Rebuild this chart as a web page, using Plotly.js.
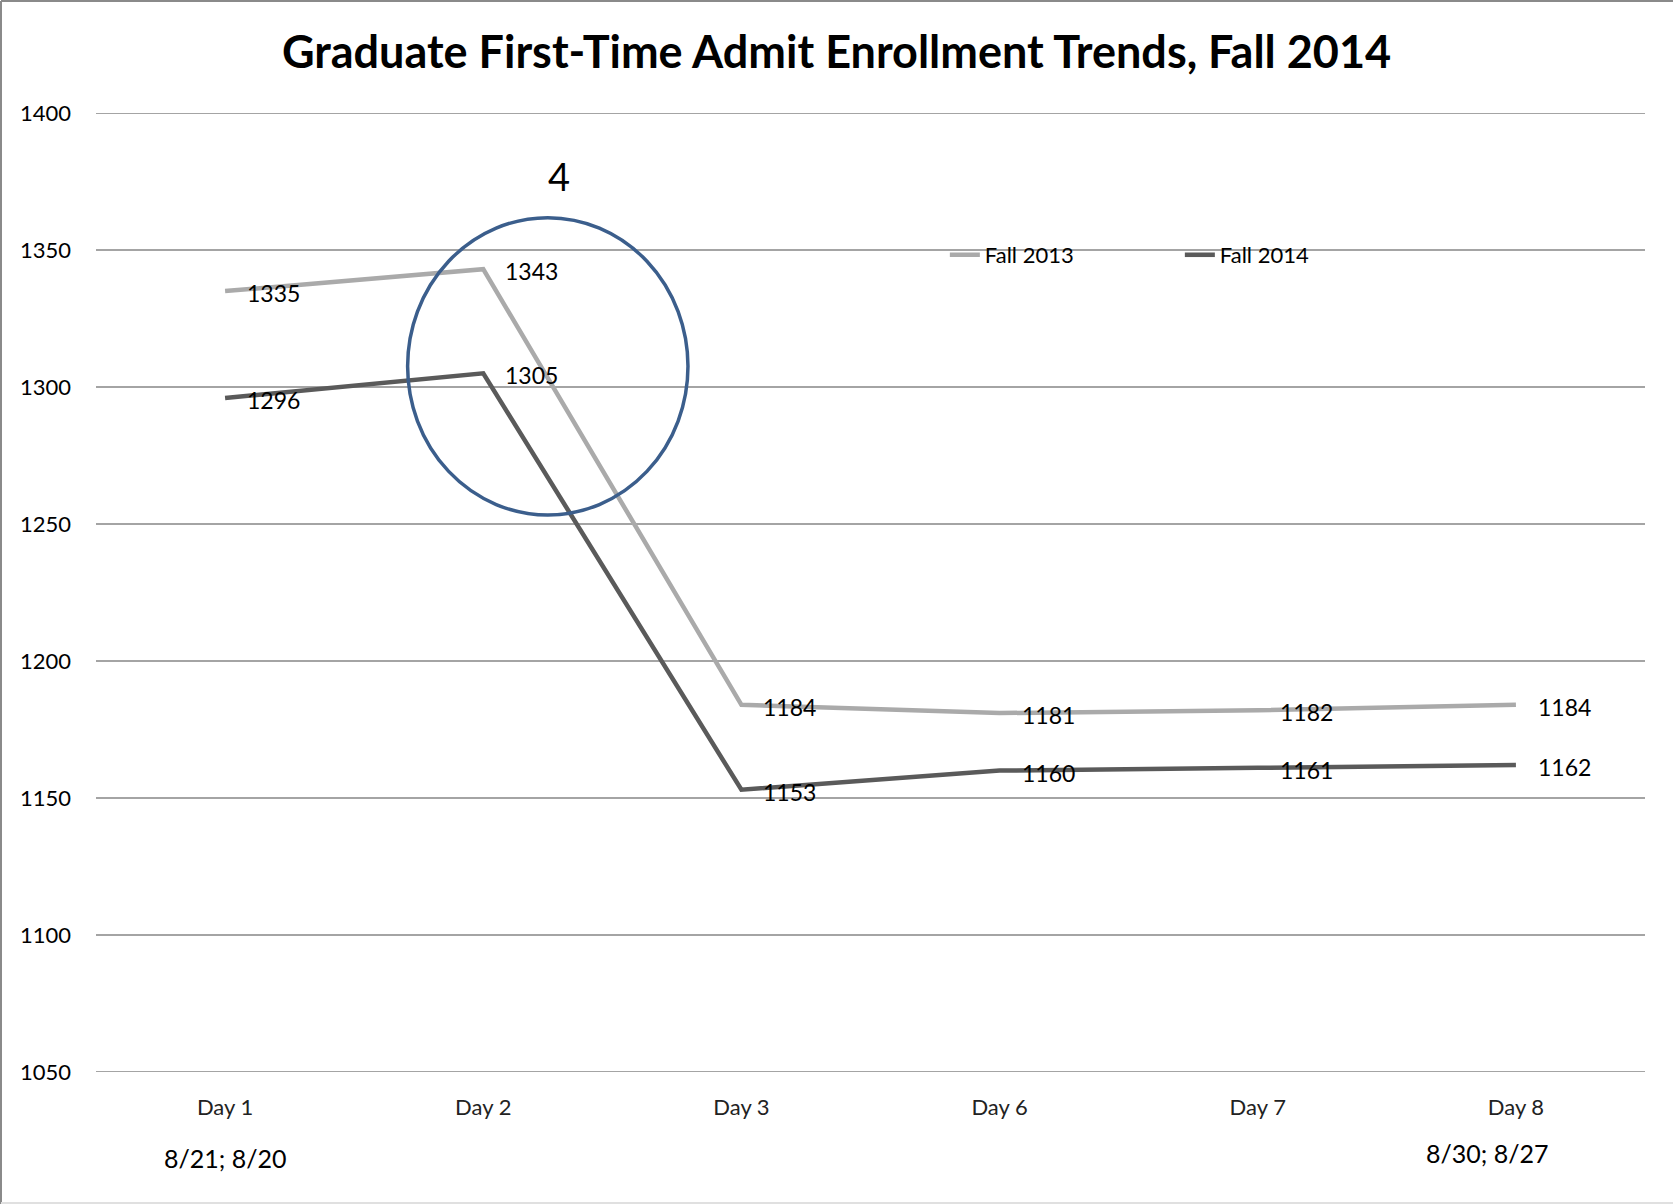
<!DOCTYPE html>
<html>
<head>
<meta charset="utf-8">
<script src="https://cdn.plot.ly/plotly-3.0.1.min.js"></script>
<style>
html,body{margin:0;padding:0;background:#fff;}
#chart{width:1673px;height:1204px;}
</style>
</head>
<body>
<div id="chart"></div>
<script>
const days = ["Day 1", "Day 2", "Day 3", "Day 6", "Day 7", "Day 8"];
const fall2013 = [1335, 1343, 1184, 1181, 1182, 1184];
const fall2014 = [1296, 1305, 1153, 1160, 1161, 1162];
const seriesNames = ["Fall 2013", "Fall 2014"];
const dateNotes = ["8/21; 8/20", "8/30; 8/27"];
const yTicks = [1050, 1100, 1150, 1200, 1250, 1300, 1350, 1400];
const titleText = "Graduate First-Time Admit Enrollment Trends, Fall 2014";
const calloutText = "4";

const FONT = "Lato, 'Open Sans', 'Noto Sans', sans-serif";
const colors = ["#aaaaaa", "#5a5a5a"];

const traces = [fall2013, fall2014].map((vals, i) => ({
  type: "scatter",
  mode: "lines",
  x: days,
  y: vals,
  name: seriesNames[i],
  line: {color: colors[i], width: 4.5},
  hoverinfo: "skip"
}));

const annotations = [];
[fall2013, fall2014].forEach(vals => {
  vals.forEach((v, j) => {
    annotations.push({
      x: j, y: v, xref: "x", yref: "y",
      text: String(v), showarrow: false,
      xanchor: "left", yanchor: "middle",
      xshift: 20, yshift: -2,
      font: {family: FONT, size: 23, color: "#000"}
    });
  });
});
annotations.push({
  x: 1.294, y: 1377, xref: "x", yref: "y", text: calloutText, showarrow: false,
  font: {family: FONT, size: 38, color: "#000"}
});
annotations.push({
  x: 0, y: -0.1074, xref: "x", yref: "paper", text: dateNotes[0], showarrow: false,
  font: {family: FONT, size: 25, color: "#000"}
});
annotations.push({
  x: 4.89, y: -0.1022, xref: "x", yref: "paper", text: dateNotes[1], showarrow: false,
  font: {family: FONT, size: 25, color: "#000"}
});

// horizontal gridlines drawn from the tick values (so the edge lines at 1050/1400 show)
const gridShapes = yTicks.map(v => ({
  type: "line", xref: "paper", yref: "y", x0: 0, x1: 1, y0: v, y1: v,
  line: {color: "#868686", width: 1.5}, layer: "below"
}));

const layout = {
  width: 1673, height: 1204,
  margin: {l: 96, r: 28, t: 113, b: 132},
  paper_bgcolor: "#fff", plot_bgcolor: "#fff",
  title: {
    text: "<b>" + titleText + "</b>",
    x: 0.5, xref: "container", xanchor: "center", y: 1 - 52/1204, yanchor: "middle",
    font: {family: FONT, size: 45, color: "#000"}
  },
  xaxis: {
    type: "category", range: [-0.5, 5.5],
    showgrid: false, zeroline: false, showline: false, ticks: "",
    ticklabelstandoff: 20,
    tickfont: {family: FONT, size: 22, color: "#222"}
  },
  yaxis: {
    range: [1050, 1400], tickvals: yTicks, ticktext: yTicks.map(String),
    showgrid: false, zeroline: false, showline: false, ticks: "",
    ticklabelstandoff: 24,
    tickfont: {family: FONT, size: 22, color: "#000"}
  },
  showlegend: true,
  legend: {
    orientation: "h", x: 0.548, y: 1 - (255-113)/959, xanchor: "left", yanchor: "middle",
    font: {family: FONT, size: 22, color: "#000"},
    bgcolor: "rgba(0,0,0,0)", traceorder: "normal",
    entrywidth: 190, entrywidthmode: "pixels"
  },
  annotations: annotations,
  shapes: gridShapes.concat([
    {type: "circle", xref: "x", yref: "y", x0: 0.707, x1: 1.793, y0: 1253.3, y1: 1361.8,
     line: {color: "#3b5e8c", width: 3.5}},
    {type: "line", xref: "paper", yref: "paper", x0: -95/1549, x1: -95/1549, y0: 1071/959, y1: -132/959,
     line: {color: "#8a8a8a", width: 2}},
    {type: "line", xref: "paper", yref: "paper", x0: -95/1549, x1: 1577/1549, y0: 1071/959, y1: 1071/959,
     line: {color: "#8a8a8a", width: 2}},
    {type: "line", xref: "paper", yref: "paper", x0: -95/1549, x1: 1577/1549, y0: -131/959, y1: -131/959,
     line: {color: "#e0e0e0", width: 2}}
  ])
};

Plotly.newPlot("chart", traces, layout, {displayModeBar: false, staticPlot: true});
</script>
</body>
</html>
